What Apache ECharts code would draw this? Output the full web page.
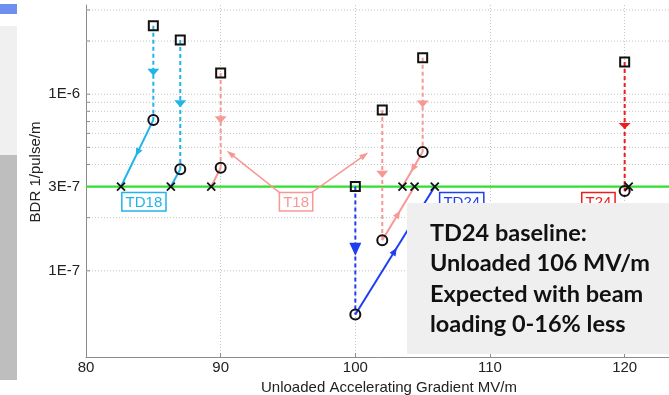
<!DOCTYPE html>
<html>
<head>
<meta charset="utf-8">
<script src="https://cdn.jsdelivr.net/npm/echarts@6/dist/echarts.min.js"></script>
<style>
  html, body { margin: 0; padding: 0; background: #ffffff; }
  #chart { width: 669px; height: 395px; }
</style>
</head>
<body>
<div id="chart"></div>
<script>
// Breakdown rate (BDR) against unloaded accelerating gradient for four structures.
// For each measurement: BDR without beam (square), with beam loading (circle),
// and the gradient scaled to the 3E-7 reference BDR (cross).

const baselineBDR = 3e-7;

// TD18
const td18Gradient = [85, 87];
const td18UnloadedBDR = [2.44e-6, 2.03e-6];
const td18LoadedBDR = [7.15e-7, 3.76e-7];
const td18GradientAtBaseline = [82.6, 86.3];

// T18
const t18Gradient = [90, 102, 105];
const t18UnloadedBDR = [1.32e-6, 8.15e-7, 1.61e-6];
const t18LoadedBDR = [3.83e-7, 1.49e-7, 4.71e-7];
const t18GradientAtBaseline = [89.3, 104.4, 103.5];

// TD24
const td24Gradient = [100];
const td24UnloadedBDR = [3.0e-7];
const td24LoadedBDR = [5.66e-8];
const td24GradientAtBaseline = [105.9];

// T24
const t24Gradient = [120];
const t24UnloadedBDR = [1.52e-6];
const t24LoadedBDR = [2.83e-7];
const t24GradientAtBaseline = [120.3];

// Axis ranges and tick values
const xMin = 80, xMax = 125, xStep = 10;
const yMin = 3.25e-8, yMax = 3.2e-6;
const yTickLabels = [1e-7, 3e-7, 1e-6];
const yGridValues = [1e-7, 2e-7, 3e-7, 4e-7, 5e-7, 6e-7, 7e-7, 8e-7, 9e-7, 1e-6, 2e-6, 3e-6];

// Structure tags and where they sit (gradient, BDR of the tag's top edge)
const tagNames = ['TD18', 'T18', 'TD24', 'T24'];
const tagGradient = [84.3, 95.6, 107.9, 118.05];
const tagBDR = [2.75e-7, 2.75e-7, 2.75e-7, 2.75e-7];

// Pointers from the T18 tag towards its two groups of points
const t18PointerFrom = [[94.4, 2.76e-7], [96.75, 2.77e-7]];
const t18PointerTo = [[90.45, 4.79e-7], [100.96, 4.67e-7]];

const noteLines = ['TD24 baseline:', 'Unloaded 106 MV/m', 'Expected with beam', 'loading 0-16% less'];

const colors = { TD18: '#1fb4ea', T18: '#f79894', TD24: '#1e3ef2', T24: '#ee1d1d' };

const structures = [
  { name: 'TD18', g: td18Gradient, u: td18UnloadedBDR, l: td18LoadedBDR, gb: td18GradientAtBaseline, head: [7, 12] },
  { name: 'T18', g: t18Gradient, u: t18UnloadedBDR, l: t18LoadedBDR, gb: t18GradientAtBaseline, head: [7, 12] },
  { name: 'TD24', g: td24Gradient, u: td24UnloadedBDR, l: td24LoadedBDR, gb: td24GradientAtBaseline, head: [13, 12] },
  { name: 'T24', g: t24Gradient, u: t24UnloadedBDR, l: t24LoadedBDR, gb: t24GradientAtBaseline, head: [6, 12] }
];

// Segments: dashed drop from unloaded to loaded BDR, solid move to the reference BDR
const segments = [];
structures.forEach(s => {
  s.g.forEach((g, i) => {
    segments.push({ from: [g, s.u[i]], to: [g, s.l[i]], color: colors[s.name], dashed: true, head: s.head });
    segments.push({ from: [g, s.l[i]], to: [s.gb[i], baselineBDR], color: colors[s.name], dashed: false, head: [8, 7] });
  });
});

const squares = [], circles = [], crosses = [];
structures.forEach(s => {
  s.g.forEach((g, i) => {
    squares.push([g, s.u[i]]);
    circles.push([g, s.l[i]]);
    crosses.push([s.gb[i], baselineBDR]);
  });
});

function headPoints(tip, ux, uy, len, wid) {
  const bx = tip[0] - ux * len, by = tip[1] - uy * len;
  const nx = -uy, ny = ux;
  return [[tip[0], tip[1]], [bx + nx * wid / 2, by + ny * wid / 2], [bx - nx * wid / 2, by - ny * wid / 2]];
}

function fmtExp(v) {
  const e = Math.floor(Math.log10(v) + 1e-9);
  const m = Math.round(v / Math.pow(10, e));
  return m + 'E' + e;
}

const axisFont = '"Liberation Sans", Arial, sans-serif';
const chart = echarts.init(document.getElementById('chart'), null, { renderer: 'canvas' });

chart.setOption({
  animation: false,
  backgroundColor: '#ffffff',
  grid: { left: 86, top: 5, width: 606, height: 352, outerBoundsMode: 'none', containLabel: false },
  xAxis: {
    type: 'value', min: xMin, max: xMax, interval: xStep,
    name: 'Unloaded Accelerating Gradient MV/m', nameLocation: 'middle', nameGap: 21,
    nameTextStyle: { fontFamily: axisFont, fontSize: 15, color: '#222' },
    axisLine: { show: true, lineStyle: { color: '#8c8c8c', width: 1 } },
    axisTick: { show: true, inside: true, length: 4, lineStyle: { color: '#8c8c8c' } },
    axisLabel: { fontFamily: axisFont, fontSize: 15, color: '#222', margin: 3 },
    splitLine: { show: true, lineStyle: { color: '#c4c4c4', type: [1, 2], width: 1 } }
  },
  yAxis: {
    type: 'log', logBase: 10, min: yMin, max: yMax,
    name: 'BDR 1/pulse/m', nameLocation: 'middle', nameGap: 43,
    nameTextStyle: { fontFamily: axisFont, fontSize: 15, color: '#222', padding: [0, 0, 0, 18] },
    axisLine: { show: true, onZero: false, lineStyle: { color: '#8c8c8c', width: 1 } },
    axisTick: { show: false },
    axisLabel: { show: false },
    splitLine: { show: false }
  },
  graphic: [
    { type: 'rect', z: 100, shape: { x: 0, y: 4, width: 17, height: 10 }, style: { fill: '#6f8ef2' } },
    { type: 'rect', z: 100, shape: { x: 0, y: 26, width: 17, height: 129 }, style: { fill: '#f0f0f0' } },
    { type: 'rect', z: 100, shape: { x: 0, y: 155, width: 17, height: 225 }, style: { fill: '#bebebe' } },
    { type: 'rect', z: 100, shape: { x: 407, y: 203, width: 262, height: 151 }, style: { fill: '#efefef' } },
    {
      type: 'text', z: 101, x: 430, y: 218,
      style: {
        text: noteLines.join('\n'), fill: '#111', font: 'bold 23.5px Lato, "Open Sans", sans-serif',
        lineHeight: 30.5, verticalAlign: 'top', align: 'left'
      }
    }
  ],
  series: [
    // horizontal grid lines and minor ticks of the log axis
    {
      type: 'custom', coordinateSystem: 'cartesian2d', z: 1, silent: true, clip: false,
      data: yGridValues.map(v => [xMin, v]),
      renderItem: (params, api) => {
        const v = api.value(1);
        const p1 = api.coord([xMin, v]);
        const p2 = api.coord([xMax, v]);
        return {
          type: 'group', children: [
            { type: 'line', shape: { x1: p1[0], y1: p1[1], x2: p2[0], y2: p2[1] }, style: { stroke: '#c4c4c4', lineWidth: 1, lineDash: [1, 2] } },
            { type: 'line', shape: { x1: p1[0], y1: p1[1], x2: p1[0] + 4, y2: p1[1] }, style: { stroke: '#8c8c8c', lineWidth: 1 } }
          ]
        };
      }
    },
    // y tick labels
    {
      type: 'custom', coordinateSystem: 'cartesian2d', z: 1, silent: true, clip: false,
      data: yTickLabels.map(v => [xMin, v]),
      renderItem: (params, api) => {
        const v = api.value(1);
        const p = api.coord([xMin, v]);
        return {
          type: 'text', x: p[0] - 6, y: p[1],
          style: { text: fmtExp(v), fill: '#222', font: '15px ' + axisFont, align: 'right', verticalAlign: 'middle' }
        };
      }
    },
    // reference BDR line
    {
      type: 'line', z: 2, silent: true, symbol: 'none',
      data: [[xMin, baselineBDR], [xMax, baselineBDR]],
      lineStyle: { color: '#2fe02f', width: 2.2 }
    },
    // measurement paths with direction arrows
    {
      type: 'custom', coordinateSystem: 'cartesian2d', z: 3, silent: true,
      data: segments.map(s => [s.from[0], s.from[1], s.to[0], s.to[1]]),
      renderItem: (params, api) => {
        const seg = segments[params.dataIndex];
        const p1 = api.coord([api.value(0), api.value(1)]);
        const p2 = api.coord([api.value(2), api.value(3)]);
        const dx = p2[0] - p1[0], dy = p2[1] - p1[1];
        const d = Math.hypot(dx, dy);
        const children = [{
          type: 'line', shape: { x1: p1[0], y1: p1[1], x2: p2[0], y2: p2[1] },
          style: { stroke: seg.color, lineWidth: 2, lineDash: seg.dashed ? [4, 3] : null }
        }];
        if (d > 30) {
          const ux = dx / d, uy = dy / d;
          const len = seg.head[0], wid = seg.head[1];
          const tip = [(p1[0] + p2[0]) / 2 + ux * len * 0.4, (p1[1] + p2[1]) / 2 + uy * len * 0.4];
          children.push({ type: 'polygon', shape: { points: headPoints(tip, ux, uy, len, wid) }, style: { fill: seg.color } });
        }
        return { type: 'group', children };
      }
    },
    // T18 tag pointers
    {
      type: 'custom', coordinateSystem: 'cartesian2d', z: 3, silent: true,
      data: t18PointerFrom.map((f, i) => [f[0], f[1], t18PointerTo[i][0], t18PointerTo[i][1]]),
      renderItem: (params, api) => {
        const p1 = api.coord([api.value(0), api.value(1)]);
        const p2 = api.coord([api.value(2), api.value(3)]);
        const dx = p2[0] - p1[0], dy = p2[1] - p1[1];
        const d = Math.hypot(dx, dy);
        const ux = dx / d, uy = dy / d;
        return {
          type: 'group', children: [
            { type: 'line', shape: { x1: p1[0], y1: p1[1], x2: p2[0] - ux * 6, y2: p2[1] - uy * 6 }, style: { stroke: colors.T18, lineWidth: 1.5 } },
            { type: 'polygon', shape: { points: headPoints(p2, ux, uy, 9, 6) }, style: { fill: colors.T18 } }
          ]
        };
      }
    },
    // unloaded BDR
    {
      type: 'scatter', z: 4, silent: true, symbol: 'rect', symbolSize: 9,
      data: squares,
      itemStyle: { color: 'rgba(0,0,0,0)', borderColor: '#111', borderWidth: 2, opacity: 1 }
    },
    // loaded BDR
    {
      type: 'scatter', z: 4, silent: true, symbol: 'circle', symbolSize: 10,
      data: circles,
      itemStyle: { color: 'rgba(0,0,0,0)', borderColor: '#111', borderWidth: 2, opacity: 1 }
    },
    // gradient at reference BDR
    {
      type: 'scatter', z: 4, silent: true, symbol: 'path://M0,0L10,10M10,0L0,10', symbolSize: 8,
      data: crosses,
      itemStyle: { color: 'rgba(0,0,0,0)', borderColor: '#111', borderWidth: 1.8, opacity: 1 }
    },
    // structure tags
    {
      type: 'custom', coordinateSystem: 'cartesian2d', z: 5, silent: true, clip: false,
      data: tagGradient.map((g, i) => [g, tagBDR[i]]),
      renderItem: (params, api) => {
        const name = tagNames[params.dataIndex];
        const p = api.coord([api.value(0), api.value(1)]);
        return {
          type: 'text', x: p[0], y: p[1],
          style: {
            text: name, fill: colors[name], font: '15px ' + axisFont,
            align: 'center', verticalAlign: 'top',
            backgroundColor: '#ffffff', borderColor: colors[name], borderWidth: 1.5,
            padding: [2, 3, 0, 3]
          }
        };
      }
    }
  ]
});
</script>
</body>
</html>
